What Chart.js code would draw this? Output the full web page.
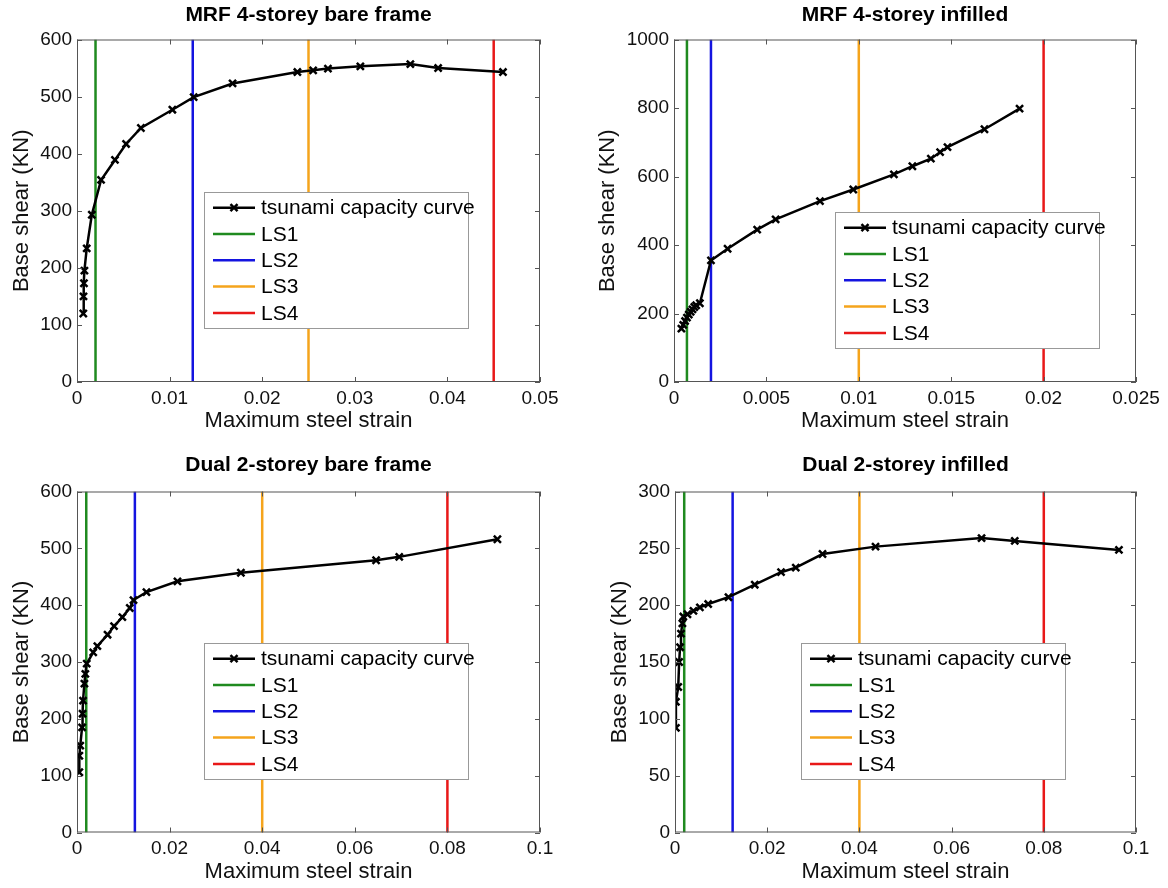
<!DOCTYPE html>
<html>
<head>
<meta charset="utf-8">
<script src="https://cdn.jsdelivr.net/npm/chart.js@4.4.1/dist/chart.umd.min.js"></script>
<style>
  body { margin: 0; background: #fff; }
  #wrap { position: relative; width: 1168px; height: 888px; }
  canvas { position: absolute; }
</style>
</head>
<body>
<div id="wrap">
  <canvas id="c0" width="584" height="444" style="left:0;top:0"></canvas>
  <canvas id="c1" width="584" height="444" style="left:584px;top:0"></canvas>
  <canvas id="c2" width="584" height="444" style="left:0;top:444px"></canvas>
  <canvas id="c3" width="584" height="444" style="left:584px;top:444px"></canvas>
</div>
<script>
const titles = ['MRF 4-storey bare frame', 'MRF 4-storey infilled', 'Dual 2-storey bare frame', 'Dual 2-storey infilled'];
const seriesNames = ['tsunami capacity curve', 'LS1', 'LS2', 'LS3', 'LS4'];
const xLabel = 'Maximum steel strain';
const yLabel = 'Base shear (KN)';

// MRF 4-storey bare frame
const mrfBareStrain = [0.00068, 0.0007, 0.00075, 0.0008, 0.00105, 0.0016, 0.0026, 0.0041, 0.0053, 0.0069, 0.0103, 0.0126, 0.0168, 0.0238, 0.0255, 0.0271, 0.0306, 0.036, 0.039, 0.046];
const mrfBareShear  = [120, 150, 173, 195, 234, 293, 354, 389, 417, 445, 477, 499, 523, 543, 546, 549, 553, 557, 550, 543];
const mrfBareLimits = [0.002, 0.0125, 0.025, 0.045];

// MRF 4-storey infilled
const mrfInfStrain = [0.0004, 0.0005, 0.0006, 0.0007, 0.0008, 0.0009, 0.001, 0.0011, 0.0012, 0.0014, 0.002, 0.0029, 0.0045, 0.0055, 0.0079, 0.0097, 0.0119, 0.0129, 0.0139, 0.0144, 0.0148, 0.0168, 0.0187];
const mrfInfShear  = [156, 167, 178, 188, 197, 205, 212, 219, 224, 230, 355, 389, 445, 475, 528, 562, 606, 630, 652, 671, 686, 738, 798];
const mrfInfLimits = [0.0007, 0.002, 0.01, 0.02];

// Dual 2-storey bare frame
const dualBareStrain = [0.0005, 0.0005, 0.0007, 0.0011, 0.0012, 0.0013, 0.0016, 0.0018, 0.0021, 0.0035, 0.0044, 0.0066, 0.008, 0.0098, 0.0114, 0.0122, 0.015, 0.0217, 0.0354, 0.0646, 0.0696, 0.0908];
const dualBareShear  = [106, 135, 153, 185, 209, 232, 262, 279, 297, 317, 328, 348, 363, 379, 395, 409, 423, 442, 457, 479, 485, 516];
const dualBareLimits = [0.002, 0.0125, 0.04, 0.08];

// Dual 2-storey infilled
const dualInfStrain = [0.0002, 0.0002, 0.0007, 0.0009, 0.0011, 0.0013, 0.0016, 0.0018, 0.0027, 0.004, 0.0054, 0.0072, 0.0116, 0.0173, 0.023, 0.0262, 0.032, 0.0435, 0.0665, 0.0737, 0.0963];
const dualInfShear  = [92, 115, 128, 150, 163, 175, 184, 190, 192, 195, 198, 201, 207, 218, 229, 233, 245, 251.5, 259, 256.5, 248.6];
const dualInfLimits = [0.002, 0.0125, 0.04, 0.08];

const xMaxes = [0.05, 0.025, 0.1, 0.1];
const xSteps = [0.01, 0.005, 0.02, 0.02];
const yMaxes = [600, 1000, 600, 300];
const ySteps = [100, 200, 100, 50];

const lsColors = ['#1f8a1f', '#1414e0', '#f5a41c', '#e81818'];
const FONT = "'Liberation Sans', Arial, sans-serif";

const panels = [
  { id: 'c0', strain: mrfBareStrain, shear: mrfBareShear, limits: mrfBareLimits,
    area: { left: 77, top: 39.5, right: 540, bottom: 382 }, titleY: 15, yTitlePad: 8.8, xTitlePad: 9.8, legend: { x: 204, y: 192 } },
  { id: 'c1', strain: mrfInfStrain, shear: mrfInfShear, limits: mrfInfLimits,
    area: { left: 90, top: 39.5, right: 552, bottom: 382 }, titleY: 15, yTitlePad: 10.8, xTitlePad: 9.8, legend: { x: 251, y: 212 } },
  { id: 'c2', strain: dualBareStrain, shear: dualBareShear, limits: dualBareLimits,
    area: { left: 77, top: 47.5, right: 540, bottom: 388.5 }, titleY: 21, yTitlePad: 8.8, xTitlePad: 2.8, legend: { x: 204, y: 199 } },
  { id: 'c3', strain: dualInfStrain, shear: dualInfShear, limits: dualInfLimits,
    area: { left: 91, top: 47.5, right: 552, bottom: 388.5 }, titleY: 21, yTitlePad: 22.8, xTitlePad: 2.8, legend: { x: 217, y: 199 } }
];

const fmt = v => String(+Number(v).toFixed(4));

// title, box with inward ticks, and matlab style legend
const matlabBits = {
  id: 'matlabBits',
  afterDatasetsDraw(chart, args, opts) {
    const { ctx, chartArea: a, scales } = chart;
    ctx.save();
    ctx.strokeStyle = '#555';
    ctx.lineWidth = 1;
    ctx.strokeRect(a.left + 0.5, a.top + 0.5, a.right - a.left - 1, a.bottom - a.top - 1);
    ctx.beginPath();
    scales.x.ticks.forEach(t => {
      const px = Math.round(scales.x.getPixelForValue(t.value)) + 0.5;
      ctx.moveTo(px, a.bottom); ctx.lineTo(px, a.bottom - 5);
      ctx.moveTo(px, a.top); ctx.lineTo(px, a.top + 5);
    });
    scales.y.ticks.forEach(t => {
      const py = Math.round(scales.y.getPixelForValue(t.value)) + 0.5;
      ctx.moveTo(a.left, py); ctx.lineTo(a.left + 5, py);
      ctx.moveTo(a.right, py); ctx.lineTo(a.right - 5, py);
    });
    ctx.stroke();

    // title
    ctx.fillStyle = '#000';
    ctx.font = 'bold 21px ' + FONT;
    ctx.textAlign = 'center';
    ctx.textBaseline = 'middle';
    ctx.fillText(opts.title, (a.left + a.right) / 2, opts.titleY);

    // legend
    const lx = opts.legend.x, ly = opts.legend.y, w = 264, h = 136;
    ctx.fillStyle = '#fff';
    ctx.fillRect(lx, ly, w, h);
    ctx.strokeStyle = '#999';
    ctx.strokeRect(lx + 0.5, ly + 0.5, w, h);
    ctx.font = '21px ' + FONT;
    ctx.textAlign = 'left';
    chart.data.datasets.forEach((ds, i) => {
      const y = ly + 15.7 + i * 26.3;
      ctx.strokeStyle = ds.borderColor;
      ctx.lineWidth = 2.5;
      ctx.beginPath();
      ctx.moveTo(lx + 9, y); ctx.lineTo(lx + 51, y);
      ctx.stroke();
      if (i === 0) {
        Chart.helpers.drawPoint(ctx, { pointStyle: 'crossRot', radius: 5, borderWidth: 2.5 }, lx + 30, y);
      }
      ctx.fillStyle = '#000';
      ctx.fillText(ds.label, lx + 57, y + 1);
    });
    ctx.restore();
  }
};

panels.forEach((p, k) => {
  const curve = p.strain.map((x, i) => ({ x, y: p.shear[i] }));
  const datasets = [{
    label: seriesNames[0],
    data: curve,
    borderColor: '#000',
    backgroundColor: '#000',
    borderWidth: 2.5,
    pointStyle: 'crossRot',
    pointRadius: 5,
    pointBorderWidth: 2.5,
    pointBorderColor: '#000',
    tension: 0,
    order: -1
  }];
  p.limits.forEach((v, j) => {
    datasets.push({
      label: seriesNames[j + 1],
      data: [{ x: v, y: 0 }, { x: v, y: yMaxes[k] }],
      borderColor: lsColors[j],
      backgroundColor: lsColors[j],
      borderWidth: 2.5,
      pointRadius: 0
    });
  });

  new Chart(document.getElementById(p.id), {
    type: 'line',
    data: { datasets },
    options: {
      responsive: false,
      animation: false,
      layout: { padding: { left: 0, top: p.area.top, right: 584 - p.area.right, bottom: 0 } },
      plugins: {
        legend: { display: false },
        tooltip: { enabled: false },
        matlabBits: { title: titles[k], titleY: p.titleY, legend: p.legend }
      },
      scales: {
        x: {
          type: 'linear',
          min: 0, max: xMaxes[k],
          grid: { display: false, drawTicks: false },
          border: { display: false },
          ticks: { stepSize: xSteps[k], autoSkip: false, maxRotation: 0, padding: 5,
                   color: '#111', font: { family: FONT, size: 19 }, callback: fmt },
          title: { display: true, text: xLabel, color: '#111',
                   font: { family: FONT, size: 22 }, padding: { top: 0, bottom: p.xTitlePad } },
          afterFit: s => { s.height = 444 - p.area.bottom; }
        },
        y: {
          type: 'linear',
          min: 0, max: yMaxes[k],
          grid: { display: false, drawTicks: false },
          border: { display: false },
          ticks: { stepSize: ySteps[k], autoSkip: false, padding: 5,
                   color: '#111', font: { family: FONT, size: 19 }, callback: fmt },
          title: { display: true, text: yLabel, color: '#111',
                   font: { family: FONT, size: 22 }, padding: { top: p.yTitlePad, bottom: 0 } },
          afterFit: s => { s.width = p.area.left; }
        }
      }
    },
    plugins: [matlabBits]
  });
});
</script>
</body>
</html>
